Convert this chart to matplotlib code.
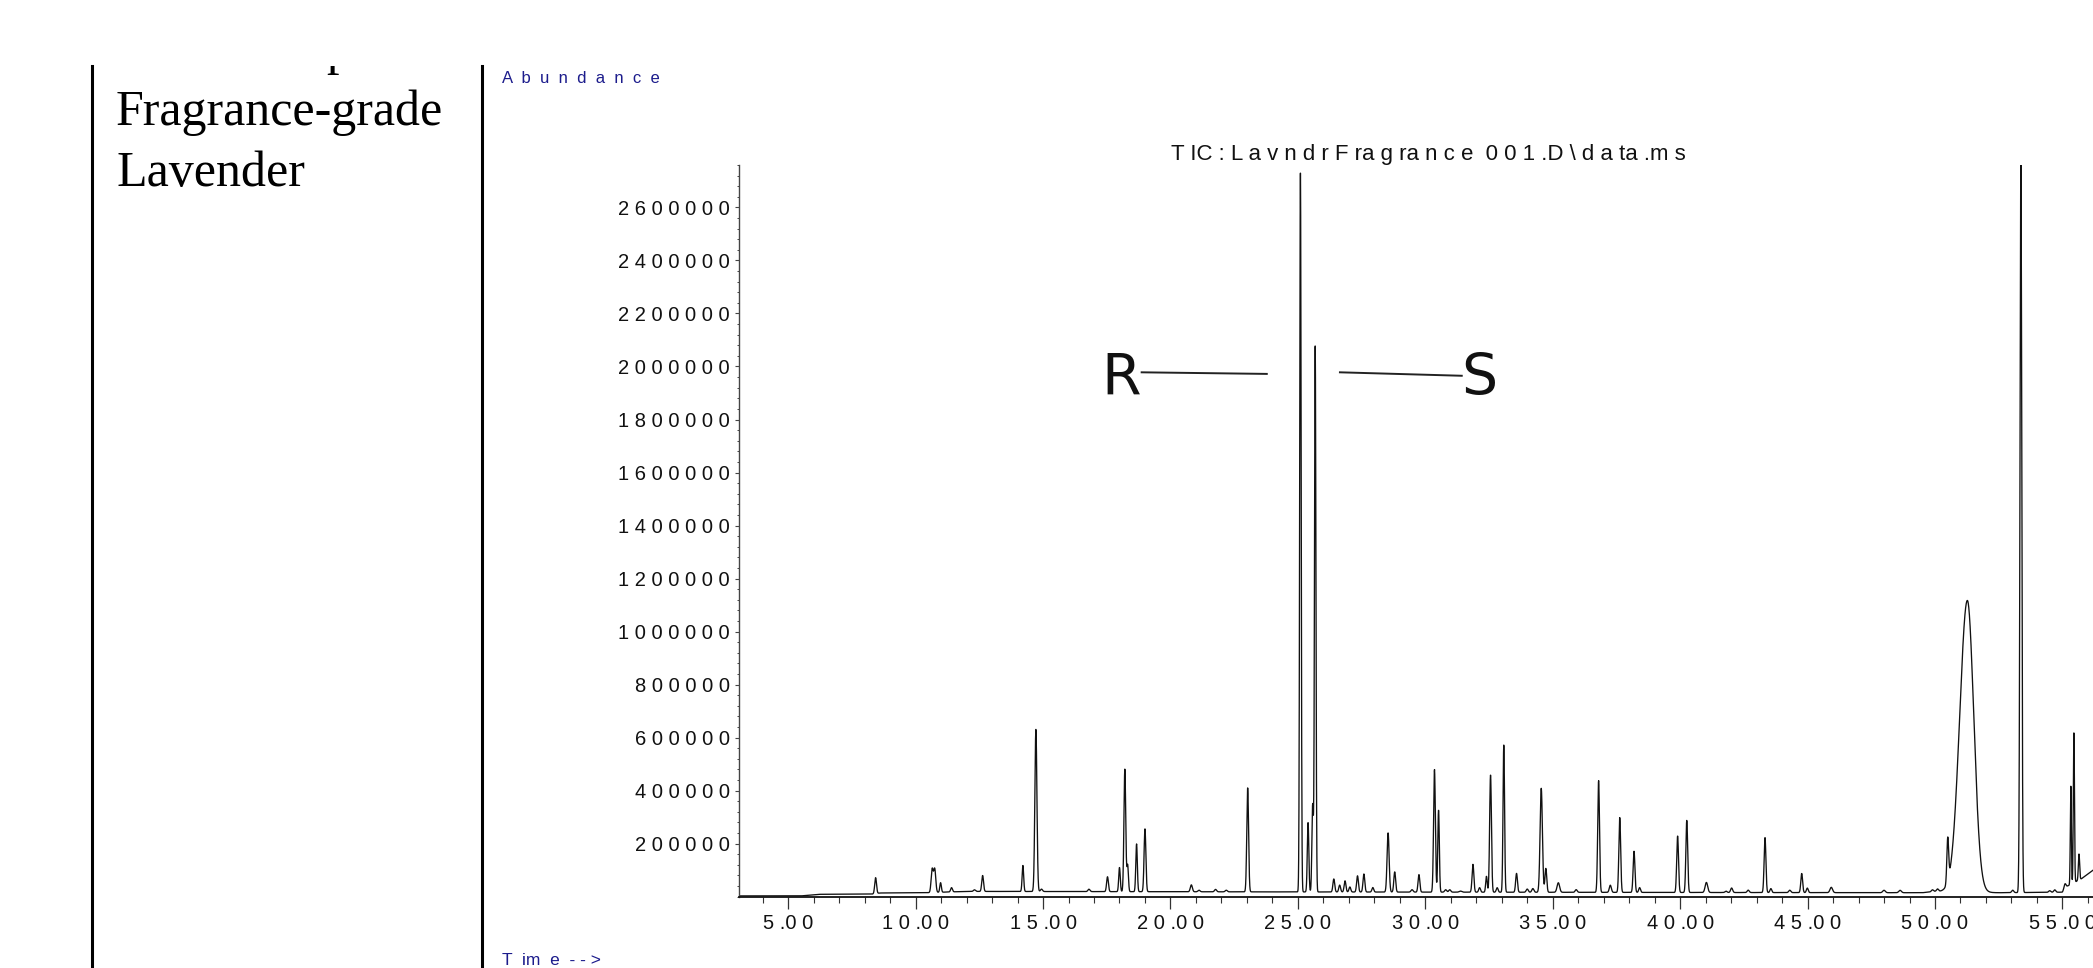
import numpy as np
import matplotlib
matplotlib.use("Agg")
import matplotlib.pyplot as plt
from matplotlib.ticker import FixedLocator, MultipleLocator, FuncFormatter

# peaks: retention time (min), height above baseline, width (sigma, min)
peak_time = [8.43, 10.65, 10.75, 10.98, 11.41, 12.31, 12.63, 14.21, 14.72, 14.94,
             16.80, 17.53, 18.00, 18.21, 18.32, 18.67, 19.00, 20.82, 21.12, 21.77,
             22.19, 23.03, 25.10, 25.40, 25.58, 25.68, 26.41, 26.64, 26.85, 27.04,
             27.34, 27.59, 27.94, 28.54, 28.80, 29.48, 29.75, 30.36, 30.52, 30.80,
             30.96, 31.38, 31.87, 32.13, 32.40, 32.56, 32.82, 33.08, 33.58, 34.00,
             34.22, 34.55, 34.73, 35.22, 35.92, 36.80, 37.26, 37.63, 38.19, 38.41,
             39.90, 40.26, 41.03, 41.80, 42.02, 42.67, 43.33, 43.56, 44.30, 44.77,
             44.99, 45.93, 48.00, 48.63, 49.90, 50.10, 50.50, 53.05, 53.37, 54.50,
             54.70, 55.10, 55.33, 55.45, 55.65]
peak_height = [60000, 88000, 88000, 36000, 16000, 6000, 60000, 98000, 612000, 9000,
               9000, 56000, 91000, 462000, 100000, 180000, 237000, 26000, 6000, 9000,
               6000, 392000, 2718000, 262000, 330000, 2063000, 49000, 26000, 42000, 19000,
               61000, 68000, 17000, 223000, 76000, 9000, 66000, 463000, 309000, 9000,
               9000, 4000, 105000, 17000, 60000, 442000, 17000, 556000, 71000, 12000,
               14000, 392000, 90000, 36000, 10000, 422000, 27000, 282000, 155000, 18000,
               213000, 272000, 38000, 5000, 17000, 9000, 207000, 15000, 9000, 72000,
               17000, 20000, 9000, 9000, 7000, 9000, 165000, 9000, 2745000, 6000,
               9000, 20000, 370000, 565000, 98000]
peak_width = [0.035, 0.04, 0.04, 0.03, 0.035, 0.04, 0.035, 0.03, 0.04, 0.04,
              0.04, 0.035, 0.03, 0.035, 0.03, 0.03, 0.035, 0.04, 0.04, 0.04,
              0.04, 0.035, 0.028, 0.03, 0.03, 0.028, 0.035, 0.035, 0.035, 0.035,
              0.035, 0.035, 0.035, 0.04, 0.035, 0.04, 0.035, 0.035, 0.03, 0.04,
              0.04, 0.05, 0.035, 0.035, 0.03, 0.035, 0.035, 0.03, 0.035, 0.04,
              0.04, 0.045, 0.035, 0.05, 0.04, 0.035, 0.04, 0.035, 0.035, 0.035,
              0.035, 0.035, 0.05, 0.04, 0.04, 0.04, 0.035, 0.035, 0.04, 0.035,
              0.035, 0.05, 0.05, 0.05, 0.04, 0.04, 0.035, 0.04, 0.035, 0.04,
              0.04, 0.04, 0.02, 0.022, 0.025]

# the broad fronting peak near 51 min
broad_time = 51.27
broad_height = 1100000
broad_left, broad_right = 0.30, 0.25

# baseline drift
base_time = [3.07, 5.5, 6.2, 8.3, 8.6, 10.4, 12.0, 25.0, 40.0, 49.5, 50.0, 52.5, 55.0, 55.2, 55.75, 56.2]
base_value = [3000, 3000, 9000, 10000, 14000, 15000, 20000, 18000, 16000, 15000, 20000, 15000, 17000, 40000, 68000, 100000]

y_ticks = [200000, 400000, 600000, 800000, 1000000, 1200000, 1400000,
           1600000, 1800000, 2000000, 2200000, 2400000, 2600000]
x_ticks = [5, 10, 15, 20, 25, 30, 35, 40, 45, 50, 55]

plt.rcParams['font.family'] = ['Liberation Sans', 'DejaVu Sans']

W, H = 2093, 968
fig = plt.figure(figsize=(W / 100, H / 100), dpi=100)


def fx(px):
    return px / W


def fy(py):
    return 1 - py / H


# trace
t = np.arange(3.07, 56.21, 0.004)
signal = np.interp(t, base_time, base_value)
for pt, ph, ps in zip(peak_time, peak_height, peak_width):
    signal += ph * np.exp(-0.5 * ((t - pt) / ps) ** 2)
d = t - broad_time
s = np.where(d < 0, broad_left, broad_right)
signal += broad_height * np.exp(-0.5 * (d / s) ** 2)

ax = fig.add_axes([fx(739), fy(896.7), 1 - fx(739), fy(165) - fy(896.7)])
ax.plot(t, signal, color='#111111', lw=0.95)
ax.set_xlim(3.07, 56.2)
ax.set_ylim(0, 2760000)
for side in ['top', 'right']:
    ax.spines[side].set_visible(False)
ax.spines['left'].set_linewidth(1.0)
ax.spines['left'].set_color('#444444')
ax.spines['bottom'].set_linewidth(1.3)
ax.spines['bottom'].set_color('#111111')

ax.yaxis.set_major_locator(FixedLocator(y_ticks))
ax.yaxis.set_minor_locator(MultipleLocator(40000))
ax.yaxis.set_major_formatter(FuncFormatter(lambda v, p: ' '.join(str(int(round(v))))))
ax.xaxis.set_major_locator(FixedLocator(x_ticks))
ax.xaxis.set_minor_locator(MultipleLocator(1))
ax.xaxis.set_major_formatter(FuncFormatter(lambda v, p: ' '.join(f'{v:.2f}').replace('. ', '.')))

ax.tick_params(axis='y', which='major', length=3, width=0.8, color='#444444', pad=3.8,
               labelsize=14.5, labelcolor='#111111')
ax.tick_params(axis='y', which='minor', length=1.7, width=0.7, color='#444444')
ax.tick_params(axis='x', which='major', length=8.6, width=0.9, color='#333333', pad=4.2,
               labelsize=14.5, labelcolor='#111111')
ax.tick_params(axis='x', which='minor', length=4.3, width=0.8, color='#333333')

# R / S labels for the two enantiomer peaks
ax.text(18.08, 1892500, 'R', family='DejaVu Sans', fontsize=41, ha='center', va='baseline',
        color='#111111')
ax.plot([18.87, 23.78], [1978000, 1972000], color='#222222', lw=1.4)
ax.plot([26.65, 31.43], [1978000, 1965000], color='#222222', lw=1.4)
ax.text(32.13, 1892500, 'S', family='DejaVu Sans', fontsize=41, ha='center', va='baseline',
        color='#111111')

fig.text(fx(1428), fy(160), 'T IC : L a v n d r F ra g ra n c e  0 0 1 .D \\ d a ta .m s',
         fontsize=16, ha='center', va='baseline', color='#111111')
fig.text(fx(502), fy(83), 'A  b  u  n  d  a  n  c  e', fontsize=12, ha='left',
         va='baseline', color='#1c1c8c')
fig.text(fx(502), fy(965), 'T  im  e  - - >', fontsize=12.5, ha='left', va='baseline',
         color='#1c1c8c')

# left panel: frame lines and sample name
fig.add_artist(plt.Line2D([fx(92), fx(92)], [0, fy(66)], color='black', lw=2.2))
fig.add_artist(plt.Line2D([fx(481.5), fx(481.5)], [0, fy(66)], color='black', lw=2.2))
ax_name = fig.add_axes([0, 0, fx(470), fy(66)])
ax_name.axis('off')
ax_name.set_xlim(0, 470)
ax_name.set_ylim(H, 66)
ax_name.text(326, 64, 'p', family='Liberation Serif', fontsize=36, va='baseline',
             clip_on=True)
ax_name.text(116, 125, 'Fragrance-grade', family='Liberation Serif', fontsize=36,
             va='baseline')
ax_name.text(116, 186, 'Lavender', family='Liberation Serif', fontsize=36,
             va='baseline')

plt.savefig('out.png', dpi=100)
